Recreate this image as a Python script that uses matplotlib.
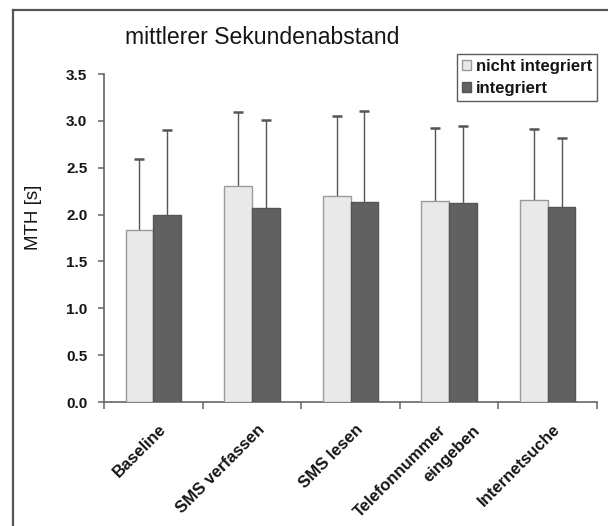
import matplotlib
matplotlib.use("Agg")
import matplotlib.pyplot as plt
from matplotlib.lines import Line2D
from matplotlib.patches import Patch
from matplotlib.transforms import ScaledTranslation, blended_transform_factory
import numpy as np

plt.rcParams['font.family'] = ['Liberation Sans', 'DejaVu Sans']

# Data
categories = ["Baseline", "SMS verfassen", "SMS lesen", "Telefonnummer\neingeben", "Internetsuche"]
series_names = ["nicht integriert", "integriert"]
mean_nicht = [1.84, 2.31, 2.20, 2.15, 2.16]
mean_integ = [2.00, 2.07, 2.13, 2.12, 2.08]
sd_nicht = [0.75, 0.78, 0.85, 0.77, 0.75]
sd_integ = [0.90, 0.94, 0.98, 0.82, 0.74]
y_ticks = [0.0, 0.5, 1.0, 1.5, 2.0, 2.5, 3.0, 3.5]
title_text = "mittlerer Sekundenabstand"
y_label = "MTH [s]"

W, H = 608, 526
fig = plt.figure(figsize=(W / 100, H / 100), dpi=100)
fig.patch.set_facecolor("white")

# Axes box in pixel terms
left, right, top, bottom = 104, 597, 74, 402
ax = fig.add_axes([left / W, 1 - bottom / H, (right - left) / W, (bottom - top) / H])

x = np.arange(len(categories))
bw = 0.28
light = "#e9e9e9"
dark = "#616161"
err_col = "#555555"
txt_col = "#151515"

ax.bar(x - bw / 2, mean_nicht, bw, color=light, edgecolor="#9a9a9a", linewidth=1.0, zorder=3)
ax.bar(x + bw / 2, mean_integ, bw, color=dark, edgecolor="#555555", linewidth=1.0, zorder=3)
# symmetric whiskers; the lower half is hidden behind the bars
ax.errorbar(x - bw / 2, mean_nicht, yerr=sd_nicht, fmt="none",
            ecolor=err_col, elinewidth=1.0, capsize=3.5, capthick=1.8, zorder=1)
ax.errorbar(x + bw / 2, mean_integ, yerr=sd_integ, fmt="none",
            ecolor=err_col, elinewidth=1.0, capsize=3.5, capthick=1.8, zorder=1)

ax.set_xlim(-0.5, len(categories) - 0.5)
ax.set_ylim(0, 3.5)
ax.set_yticks(y_ticks)
ax.set_yticklabels([f"{v:.1f}" for v in y_ticks], fontsize=11, fontweight="bold", color=txt_col)
ax.tick_params(axis="y", direction="out", length=4, width=1.1, color="#666666", pad=8)

# category separators as ticks on the x axis
ax.set_xticks(np.arange(-0.5, len(categories)), minor=True)
ax.set_xticks([])
ax.tick_params(axis="x", which="minor", direction="out", length=5, width=1.1, color="#666666")

for s in ["top", "right"]:
    ax.spines[s].set_visible(False)
for s in ["left", "bottom"]:
    ax.spines[s].set_color("#666666")
    ax.spines[s].set_linewidth(1.2)

# category labels, rotated 45 degrees
base = blended_transform_factory(ax.transData, ax.transAxes)
for i, lab in enumerate(categories):
    lines = lab.split("\n")
    if len(lines) == 1:
        offs = [(10, 25)]
    else:
        offs = [(-5, 26), (28, 26)]
    for line, (dx, dy) in zip(lines, offs):
        tr = base + ScaledTranslation(dx / 100, -dy / 100, fig.dpi_scale_trans)
        ax.text(i, 0, line, transform=tr, rotation=45, rotation_mode="anchor",
                ha="right", va="center", fontsize=12, fontweight="bold", color=txt_col)

ax.set_ylabel(y_label, fontsize=13.5, color=txt_col)
ax.yaxis.set_label_coords((42 - left) / (right - left), (bottom - 217) / (bottom - top))

fig.text(125 / W, 1 - 37 / H, title_text, fontsize=16.6, ha="left", va="center", color=txt_col)

handles = [Patch(facecolor=light, edgecolor="#9a9a9a", linewidth=1.0),
           Patch(facecolor=dark, edgecolor="#555555", linewidth=1.0)]
leg = fig.legend(handles, series_names, loc="upper right",
                 bbox_to_anchor=(597 / W, 1 - 54 / H), bbox_transform=fig.transFigure,
                 frameon=True, fancybox=False, edgecolor="#333333",
                 prop={"size": 12, "weight": "bold"},
                 handlelength=0.55, handleheight=0.55, handletextpad=0.3,
                 labelspacing=0.4, borderpad=0.3, borderaxespad=0)
leg.get_frame().set_linewidth(1.0)
for t in leg.get_texts():
    t.set_color(txt_col)

# outer frame along top and left edges
fig.add_artist(Line2D([12.5 / W, 1], [1 - 9.5 / H, 1 - 9.5 / H], transform=fig.transFigure,
                      color="#555555", linewidth=1.6))
fig.add_artist(Line2D([12.5 / W, 12.5 / W], [0, 1 - 9.5 / H], transform=fig.transFigure,
                      color="#555555", linewidth=1.6))

fig.savefig("out.png", dpi=100, facecolor="white")
